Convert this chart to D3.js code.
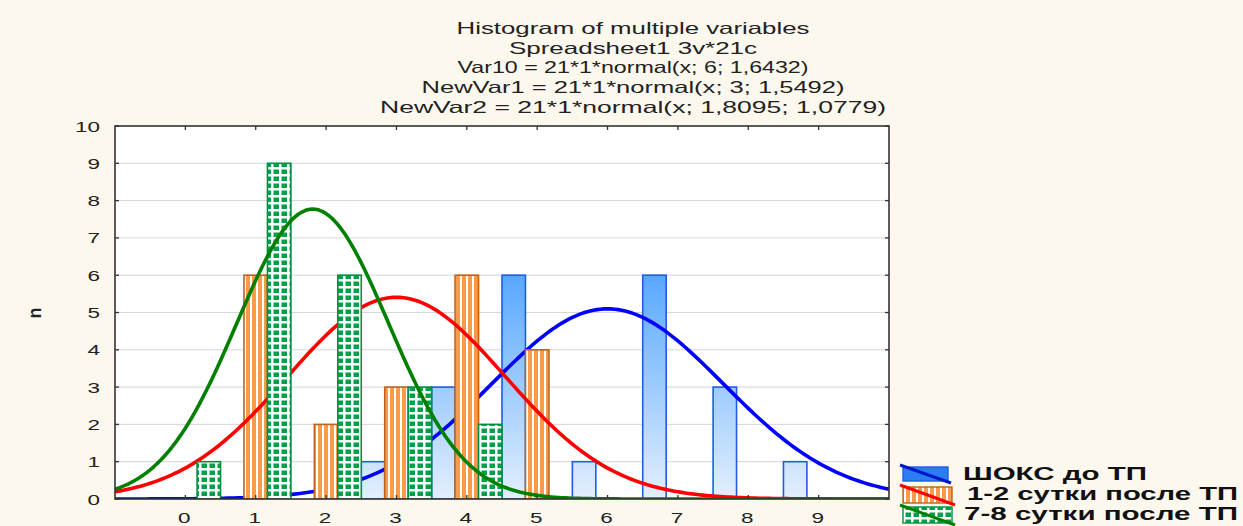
<!DOCTYPE html>
<html lang="ru">
<head>
<meta charset="UTF-8">
<title>Histogram of multiple variables</title>
<script src="https://d3js.org/d3.v7.min.js"></script>
<style>
  body { margin: 0; background: #fcf8ee; }
  svg { display: block; font-family: Arial, "Liberation Sans", sans-serif; }
</style>
</head>
<body>
<svg id="main" width="1243" height="526"></svg>
<script>
// values
const bins = [0, 1, 2, 3, 4, 5, 6, 7, 8, 9];
const shoks = [0, 0, 0, 1, 3, 6, 1, 6, 3, 1];   // ШОКС до ТП
const day12 = [0, 6, 2, 3, 6, 4, 0, 0, 0, 0];   // 1-2 сутки после ТП
const day78 = [1, 9, 6, 3, 2, 0, 0, 0, 0, 0];   // 7-8 сутки после ТП
const seriesNames = ["ШОКС до ТП", "1-2 сутки после ТП", "7-8 сутки после ТП"];
const xTicks = [0, 1, 2, 3, 4, 5, 6, 7, 8, 9];
const yTicks = [0, 1, 2, 3, 4, 5, 6, 7, 8, 9, 10];
const titleLines = [
  "Histogram of multiple variables",
  "Spreadsheet1 3v*21c",
  "Var10 = 21*1*normal(x; 6; 1,6432)",
  "NewVar1 = 21*1*normal(x; 3; 1,5492)",
  "NewVar2 = 21*1*normal(x; 1,8095; 1,0779)"
];

const svg = d3.select("svg#main");
const pLeft = 115, pRight = 889, pTop = 126, pBottom = 499;

let x = d3.scaleLinear().domain([-1, 10]).range([pLeft, pRight]);
let y = d3.scaleLinear().domain([0, 10]).range([pBottom, pTop]);
let inner = d3.scaleBand().domain([0, 1, 2]).range([0, x(1) - x(0)]);

let defs = svg.append("defs");
defs.append("clipPath").attr("id", "plotclip")
  .append("rect").attr("x", pLeft).attr("y", pTop)
  .attr("width", pRight - pLeft).attr("height", pBottom - pTop);

let grad = defs.append("linearGradient").attr("id", "blueGrad")
  .attr("gradientUnits", "userSpaceOnUse")
  .attr("x1", 0).attr("x2", 0).attr("y1", y(6)).attr("y2", y(0));
grad.append("stop").attr("offset", 0).attr("stop-color", "#58a8ff");
grad.append("stop").attr("offset", 1).attr("stop-color", "#e3effd");

// vertical stripes
let stripes = defs.append("pattern").attr("id", "stripes")
  .attr("patternUnits", "userSpaceOnUse").attr("width", 6).attr("height", 10);
stripes.append("rect").attr("width", 6).attr("height", 10).attr("fill", "#f89c4c");
stripes.append("rect").attr("x", 4).attr("width", 2).attr("height", 10).attr("fill", "#fff");

// green blocks
let blocks = defs.append("pattern").attr("id", "blocks")
  .attr("patternUnits", "userSpaceOnUse").attr("width", 8).attr("height", 7);
blocks.append("rect").attr("width", 8).attr("height", 7).attr("fill", "#fff");
blocks.append("rect").attr("x", 1.5).attr("y", 1.5).attr("width", 5.5).attr("height", 4.5).attr("fill", "#00a04a");

const styles = [
  { fill: "url(#blueGrad)", stroke: "#1d5ee0", line: "#0000ff", data: shoks, legend: "#2c7cf4" },
  { fill: "url(#stripes)", stroke: "#c0621a", line: "#ff0000", data: day12, legend: "url(#stripes)" },
  { fill: "url(#blocks)", stroke: "#00903e", line: "#008000", data: day78, legend: "url(#blocks)" }
];

// plot area
svg.append("rect").attr("x", pLeft).attr("y", pTop)
  .attr("width", pRight - pLeft).attr("height", pBottom - pTop).attr("fill", "#fff");

svg.append("g").selectAll("line")
  .data(yTicks.slice(1, -1)).enter().append("line")
  .attr("x1", pLeft).attr("x2", pRight)
  .attr("y1", d => y(d)).attr("y2", d => y(d))
  .attr("stroke", "#d6d6d6").attr("stroke-width", 1);

// normal curve fitted from each histogram
function fitted(counts) {
  let n = d3.sum(counts);
  let mean = d3.sum(bins, (b, i) => b * counts[i]) / n;
  let sd = Math.sqrt(d3.sum(bins, (b, i) => counts[i] * (b - mean) ** 2) / (n - 1));
  let xs = d3.range(-1, 10.001, 0.05);
  return xs.map(v => [v, n * 1 * Math.exp(-0.5 * ((v - mean) / sd) ** 2) / (sd * Math.sqrt(2 * Math.PI))]);
}

let line = d3.line().x(d => x(d[0])).y(d => y(d[1])).curve(d3.curveLinear);
let plot = svg.append("g").attr("clip-path", "url(#plotclip)");

styles.forEach(function(s, si) {
  plot.append("g").selectAll("rect")
    .data(bins.filter((b, i) => s.data[i] > 0)).enter().append("rect")
    .attr("x", b => x(b - 0.5) + inner(si))
    .attr("width", inner.bandwidth())
    .attr("y", b => y(s.data[bins.indexOf(b)]))
    .attr("height", b => y(0) - y(s.data[bins.indexOf(b)]))
    .attr("fill", s.fill)
    .attr("stroke", s.stroke).attr("stroke-width", 1.6);
  plot.append("path").datum(fitted(s.data))
    .attr("d", line).attr("fill", "none")
    .attr("stroke", s.line).attr("stroke-width", 3.6)
    .attr("stroke-linejoin", "round");
});

// frame and ticks
svg.append("rect").attr("x", pLeft).attr("y", pTop)
  .attr("width", pRight - pLeft).attr("height", pBottom - pTop)
  .attr("fill", "none").attr("stroke", "#333").attr("stroke-width", 1.6);

let ticks = svg.append("g").attr("stroke", "#333").attr("stroke-width", 1.3);
xTicks.forEach(function(t) {
  ticks.append("line").attr("x1", x(t)).attr("x2", x(t)).attr("y1", pTop).attr("y2", pTop + 4);
  ticks.append("line").attr("x1", x(t)).attr("x2", x(t)).attr("y1", pBottom).attr("y2", pBottom - 4);
});
yTicks.forEach(function(t) {
  ticks.append("line").attr("x1", pLeft).attr("x2", pLeft + 4).attr("y1", y(t)).attr("y2", y(t));
  ticks.append("line").attr("x1", pRight).attr("x2", pRight - 4).attr("y1", y(t)).attr("y2", y(t));
});

// stretched text, like the original rendering
function wideText(px, py, txt, size, sx, anchor, weight) {
  svg.append("g").attr("transform", `translate(${px},${py}) scale(${sx},1)`)
    .append("text").text(txt)
    .attr("font-size", size).attr("fill", "#222")
    .attr("font-weight", weight || "normal")
    .attr("text-anchor", anchor);
}

yTicks.forEach(t => wideText(100, y(t) + 5.5, String(t), 15, 1.5, "end"));
xTicks.forEach(t => wideText(x(t) - 1, 523, String(t), 15, 1.5, "middle"));

svg.append("text").text("n")
  .attr("transform", "translate(41,313) rotate(-90)")
  .attr("text-anchor", "middle").attr("font-size", 18).attr("font-weight", "bold")
  .attr("fill", "#222");

// title
const titleWidths = [353, 248, 351, 423, 506];
svg.append("g").selectAll("text")
  .data(titleLines).enter().append("text")
  .text(d => d)
  .attr("x", 633).attr("y", (d, i) => 34 + i * 19.7)
  .attr("text-anchor", "middle").attr("font-size", 16.5).attr("fill", "#222")
  .attr("textLength", (d, i) => titleWidths[i])
  .attr("lengthAdjust", "spacingAndGlyphs");

// legend
const legendY = [467, 487, 507];
const legendH = [14, 16, 16];
const legendW = [45, 49, 49];
const legendTextW = [184, 271, 274];
const legendTextX = [963, 967, 964];
let legend = svg.append("g");
styles.forEach(function(s, i) {
  legend.append("rect").attr("x", 903).attr("y", legendY[i])
    .attr("width", legendW[i]).attr("height", legendH[i])
    .attr("fill", s.legend).attr("stroke", s.stroke).attr("stroke-width", 1.4);
  legend.append("line")
    .attr("x1", 900).attr("y1", legendY[i] - 2)
    .attr("x2", 903 + legendW[i] + 3).attr("y2", legendY[i] + legendH[i] + 2)
    .attr("stroke", i === 0 ? "#0018c8" : s.line).attr("stroke-width", 3);
  legend.append("text").text(seriesNames[i])
    .attr("x", legendTextX[i]).attr("y", legendY[i] + 13)
    .attr("font-size", 18).attr("font-weight", "bold").attr("fill", "#111")
    .attr("textLength", legendTextW[i]).attr("lengthAdjust", "spacingAndGlyphs");
});
</script>
</body>
</html>
